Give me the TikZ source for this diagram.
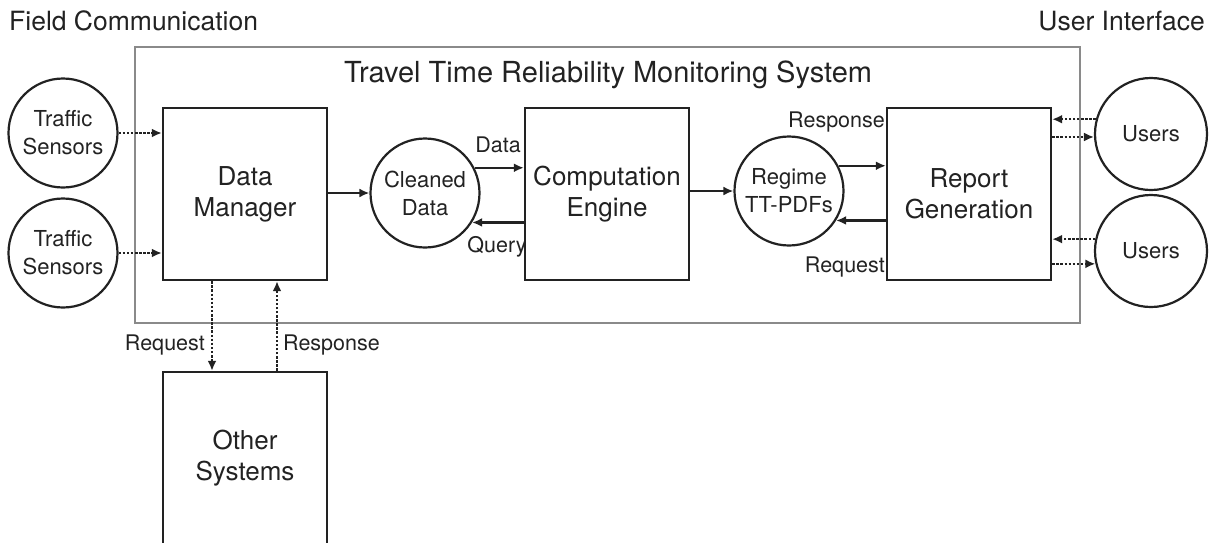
\documentclass[tikz,border=0pt]{standalone}
\usepackage{fontspec}
\setmainfont{TeX Gyre Heros}
\usetikzlibrary{arrows.meta}
\definecolor{ink}{HTML}{222222}
\definecolor{frame}{HTML}{8A8A8A}
\begin{document}
\begin{tikzpicture}[x=1pt,y=-1pt,
  every node/.style={text=ink},
  block/.style={draw=ink, line width=2.4pt, minimum width=164pt, minimum height=172pt,
    align=center, inner sep=0pt, font=\fontsize{26}{31}\selectfont},
  store/.style={circle, draw=ink, line width=2.2pt, minimum size=109pt, align=center,
    inner sep=0pt, font=\fontsize{22}{28}\selectfont},
  link/.style={draw=ink, line width=2.4pt, -{Latex[length=10pt,width=9pt]}},
  dots/.style={link, dash pattern=on 2.5pt off 1.6pt},
  lab/.style={inner sep=0pt, font=\fontsize{21.5}{25}\selectfont},
  head/.style={inner sep=0pt, font=\fontsize{26.5}{30}\selectfont}]
\useasboundingbox (0,0) rectangle (1213,542);

% system boundary
\node[draw=frame, line width=1.5pt, minimum width=945pt, minimum height=276pt, inner sep=0pt]
  (sys) at (607.5,185) {};
\node[inner sep=0pt, font=\fontsize{29}{33}\selectfont, anchor=base] (title) at (608,82)
  {Travel Time Reliability Monitoring System};

% side headings
\node[head, anchor=base west] (fc) at (9,30) {Field Communication};
\node[head, anchor=base east] (ui) at (1205,30) {User Interface};

% processing blocks
\node[block] (dm) at (245,194) {Data\\Manager};
\node[block] (ce) at (607,194) {Computation\\Engine};
\node[block] (rg) at (969,194) {Report\\Generation};
\node[block] (os) at (245,458) {Other\\Systems};

% data stores and external entities
\node[store] (ts1) at (63,133) {Traffic\\Sensors};
\node[store] (ts2) at (63,253) {Traffic\\Sensors};
\node[store] (cd) at (425,193) {Cleaned\\Data};
\node[store] (rt) at (789,191) {Regime\\TT-PDFs};
\node[store, minimum size=112pt] (u1) at (1151,134) {Users};
\node[store, minimum size=112pt] (u2) at (1151,251) {Users};

% sensor feeds
\draw[dots] (ts1.east) -- (ts1.east -| dm.west);
\draw[dots] (ts2.east) -- (ts2.east -| dm.west);

% main processing chain
\draw[link] (dm.east |- cd.west) -- (cd.west);
\draw[link] (cd.27) -- (cd.27 -| ce.west);
\draw[link] (cd.-32 -| ce.west) -- (cd.-32);
\draw[link] (ce.east |- rt.west) -- (rt.west);
\draw[link] (rt.27) -- (rt.27 -| rg.west);
\draw[link] (rt.-32 -| rg.west) -- (rt.-32);

\node[lab] (ldata) at (498,145) {Data};
\node[lab] (lquery) at (497,247) {Query};
\node[lab, anchor=east] (lresp) at (885,122) {Response};
\node[lab, anchor=east] (lreq) at (885,267) {Request};

% user interaction
\draw[dots] (u1.165) -- (u1.165 -| rg.east);
\draw[dots] (u1.183 -| rg.east) -- (u1.183);
\draw[dots] (u2.168) -- (u2.168 -| rg.east);
\draw[dots] (u2.193 -| rg.east) -- (u2.193);

% exchange with other systems
\draw[dots] ([xshift=-33pt]dm.south) -- ([xshift=-33pt]dm.south |- os.north);
\draw[dots] ([xshift=32pt]os.north) -- ([xshift=32pt]os.north |- dm.south);
\node[lab, anchor=east] (lreq2) at (205,345) {Request};
\node[lab, anchor=west] (lresp2) at (283,345) {Response};
\end{tikzpicture}
\end{document}
